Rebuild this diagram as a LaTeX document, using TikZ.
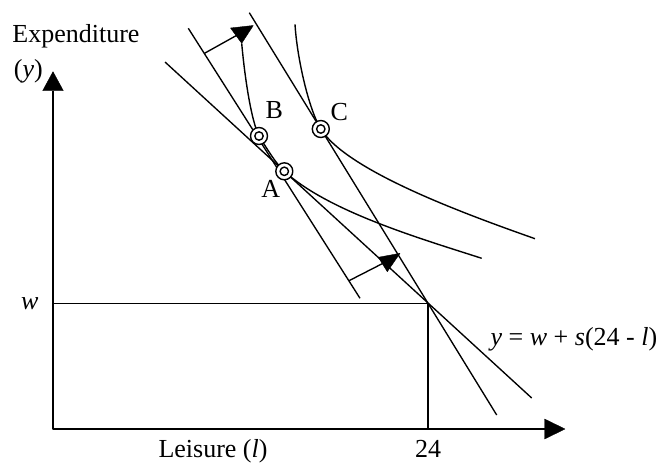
\documentclass[tikz,border=0pt]{standalone}
\usepackage{fontspec}
\setmainfont{Liberation Serif}
\begin{document}
\begin{tikzpicture}[x=1pt,y=-1pt, line width=1.35pt, line join=round,
  lbl/.style={font=\fontsize{26}{30}\selectfont, inner sep=0pt},
  curve/.style={line width=1.4pt},
  pt/.style={circle, draw, fill=white, line width=1.4pt, minimum size=17pt, inner sep=0pt,
    path picture={\draw[line width=1.4pt] (path picture bounding box.center) circle (4.2pt);}},
  head/.style={fill=black, draw=black, line width=0.4pt}]
\useasboundingbox (0,0) rectangle (666,463);
% axes
\coordinate (O) at (53,429);
\coordinate (Ytop) at (53,90.7);
\coordinate (Xend) at (544.5,429);
\draw[line width=1.5pt] (Ytop) -- (O) -- (Xend);
\filldraw[head] (42.7,90.7) -- (53,71.7) -- (63.3,90.7) -- cycle;
\filldraw[head] (544.5,419) -- (565,429) -- (544.5,439) -- cycle;
% endowment lines
\coordinate (Wy) at (53,303.3);
\coordinate (E) at (428,303.3);
\coordinate (X24) at (428,429);
\draw (Wy) -- (E) -- (X24);
% budget lines
\coordinate (L1a) at (165,62); \coordinate (L1b) at (531.7,398);
\coordinate (Ca) at (249.3,12.7); \coordinate (Cb) at (496.7,415);
\coordinate (Ba) at (188.3,28.3); \coordinate (Bb) at (360,298.3);
\draw (L1a) -- (L1b);
\draw (Ca) -- (Cb);
\draw (Ba) -- (Bb);
% indifference curves
\coordinate (U0a) at (241.7,43.3);
\coordinate (U0b) at (481.7,258.3);
\coordinate (U1a) at (295,24.3);
\coordinate (U1b) at (535,238.7);
\coordinate (pB) at (259,136);
\coordinate (pA) at (284.3,171.3);
\coordinate (pC) at (320.8,129);
\draw[curve] (U0a) .. controls (245,80) and (251.5,121) .. (pB)
  .. controls (266.5,148) and (275.5,163.2) .. (pA)
  .. controls (329,212) and (422,239) .. (U0b);
\draw[curve] (U1a) .. controls (297,58) and (308.8,109.5) .. (pC)
  .. controls (347,171) and (465,214) .. (U1b);
% shift arrows
\coordinate (T1) at (204.5,53.3); \coordinate (H1) at (240,33.5);
\coordinate (T2) at (349,280.7); \coordinate (H2) at (387.5,261);
\draw (T1) -- (H1);
\draw (T2) -- (H2);
\filldraw[head] (230.5,28) -- (253.3,25.5) -- (241.7,43.3) -- cycle;
\filldraw[head] (378.3,257.3) -- (400,253.3) -- (387.3,271.7) -- cycle;
% points
\node[pt] (B) at (pB) {};
\node[pt] (A) at (pA) {};
\node[pt] (C) at (pC) {};
% labels
\node[lbl, anchor=base] (Bl) at (274.3,118) {B};
\node[lbl, anchor=base] (Cl) at (339.3,120) {C};
\node[lbl, anchor=base] (Al) at (270.7,197) {A};
\node[lbl, anchor=base west] (ylab) at (11.7,42.7) {Expenditure};
\node[lbl, anchor=base west] (ylab2) at (13.3,77) {(\textit{y})};
\node[lbl, anchor=base] (wlab) at (29.7,309) {\textit{w}};
\node[lbl, anchor=base] (t24) at (428,457) {24};
\node[lbl, anchor=base] (xlab) at (213,457) {Leisure (\textit{l})};
\node[lbl, anchor=base west] (eq) at (490,345) {\textit{y} = \textit{w} + \textit{s}(24 - \textit{l})};
\end{tikzpicture}
\end{document}
